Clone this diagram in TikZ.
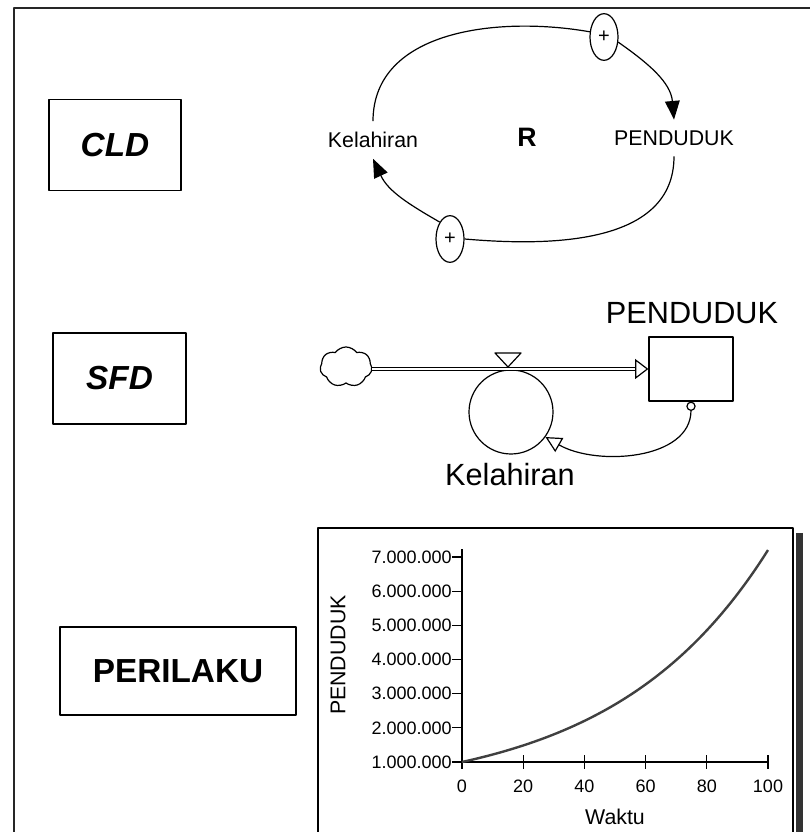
\documentclass[tikz,border=0pt]{standalone}
\usepackage{fontspec}
\setmainfont{Liberation Sans}
\usetikzlibrary{arrows.meta,shapes.geometric,shapes.symbols}

\begin{document}
\begin{tikzpicture}[x=0.75pt,y=0.75pt,line join=round,
  box/.style={draw,line width=1.1pt,inner sep=0pt},
  tag/.style={font=\fontsize{25}{28}\selectfont\bfseries\itshape},
  cldlbl/.style={font=\fontsize{16}{18}\selectfont,inner sep=8pt},
  plus/.style={draw,ellipse,minimum width=21pt,minimum height=35pt,inner sep=0pt,line width=0.9pt,font=\fontsize{15}{17}\selectfont},
  link/.style={line width=0.9pt},
  sfdlbl/.style={font=\fontsize{23}{26}\selectfont},
  tick/.style={font=\fontsize{13.5}{15}\selectfont}]
\useasboundingbox (0,0) rectangle (810,832);
% frame
\draw[line width=2pt,black!85] (14,0) |- (810,824);

% left column
\node[box,minimum width=99pt,minimum height=68pt,tag] (cld) at (115,687) {CLD};
\node[box,minimum width=100pt,minimum height=68pt,tag] (sfd) at (119.5,453.5) {SFD};
\node[box,minimum width=177pt,minimum height=66pt,font=\fontsize{25}{28}\selectfont\bfseries] (per) at (178,161) {PERILAKU};

% CLD loop
\node[cldlbl] (kel) at (373,692) {Kelahiran};
\node[cldlbl] (pen) at (674,694) {PENDUDUK};
\node[font=\fontsize{20}{22}\selectfont\bfseries] (r) at (527,695) {R};
\node[plus] (p1) at (604,795) {+};
\node[plus] (p2) at (450,593) {+};
\draw[link] (kel.north) to[out=90,in=170] (p1.160);
\draw[link,-{Triangle[length=14pt,width=11pt]}] (p1.-20) to[out=-35,in=95] (pen.north);
\draw[link] (pen.south) to[out=-90,in=-5] (p2.east);
\draw[link,-{Triangle[length=14pt,width=11pt]}] (p2.north west) to[out=150,in=-65] (kel.south);

% SFD
\node[cloud,draw,cloud puffs=7,cloud puff arc=110,aspect=1.3,minimum width=39pt,minimum height=30pt,inner sep=0pt,line width=0.9pt] (src) at (346,465) {};
\node[draw,minimum width=63pt,minimum height=48pt,line width=0.9pt] (stk) at (691,463) {};
\node[sfdlbl] (stklbl) at (692,519) {PENDUDUK};
\node[circle,draw,minimum size=63pt,inner sep=0pt,line width=0.9pt] (rate) at (511,420) {};
\node[sfdlbl] (ratelbl) at (510,357) {Kelahiran};
\draw[line width=0.8pt,double,double distance=2pt,shorten >=10pt] (src.east|-stk.west) -- (stk.west);
\draw[line width=0.9pt,-{Triangle[open,length=10pt,width=15pt]}] ([xshift=-10pt]stk.west) -- (stk.west);
\coordinate (valve) at (508,465);
\draw[line width=0.9pt,fill=white] (valve) -- ++(-13,14) -- ++(26,0) -- cycle;
\draw[line width=0.9pt,{Circle[open,length=7pt]}-{Triangle[open,length=12pt,width=12pt]}] (stk.south) to[out=-90,in=-30] (rate.-36);

% PERILAKU chart
\draw[line width=1pt] (318,-5) |- (793,304) -- (793,-5);
\draw[line width=5pt,black!80] (799.5,299) -- (799.5,-5);
\begin{scope}[shift={(462,70)},x=2.295pt,y=25.63pt]
\draw[line width=0.9pt] (0,0) -- (0,6.23);
\draw[line width=0.9pt] (0,0) -- (100,0);
\foreach \t in {0,20,...,100}{
  \draw[line width=0.9pt] (\t,-0.2) -- (\t,0.2);
  \node[tick,below] (xl\t) at (\t,-0.4) {\t};
}
\foreach \m in {1,...,7}{
  \pgfmathtruncatemacro{\yy}{\m-1}
  \draw[line width=0.9pt] (-3.3,\yy) -- (0,\yy);
  \node[tick,left,inner sep=0pt] (yl\m) at (-3.3,\yy) {\m.000.000};
}
\draw[line width=1.8pt,black!75,domain=0:100,samples=60,smooth] plot (\x,{exp(0.01974*\x)-1});
\node[font=\fontsize{16}{18}\selectfont] (wkt) at (50,-1.61) {Waktu};
\node[font=\fontsize{16}{18}\selectfont,rotate=90] (ylab) at (-40.5,3.13) {PENDUDUK};
\end{scope}
\end{tikzpicture}
\end{document}
